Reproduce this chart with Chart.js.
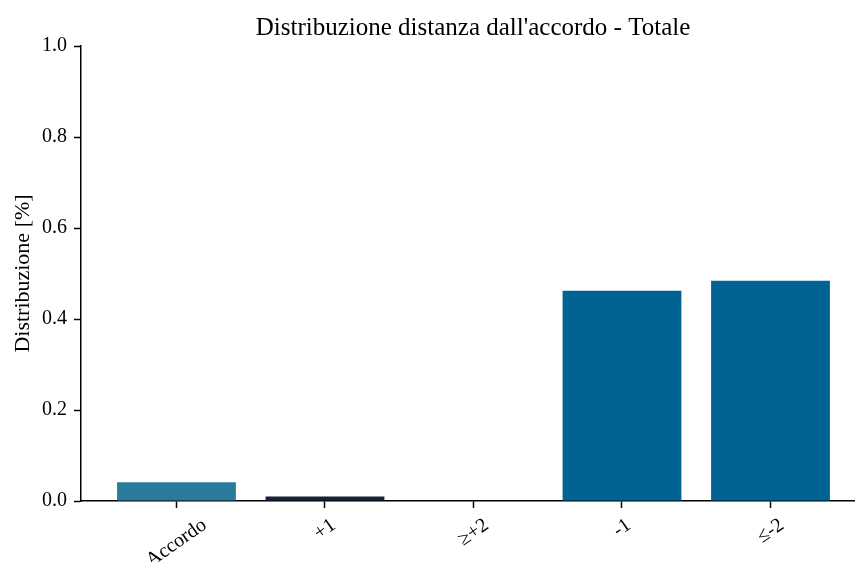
<!DOCTYPE html>
<html>
<head>
<meta charset="utf-8">
<script src="https://cdn.jsdelivr.net/npm/chart.js@4"></script>
<style>
    html, body { margin: 0; padding: 0; background: #fff; overflow: hidden; }
</style>
</head>
<body>
<canvas id="chartDistanza" width="855" height="562"></canvas>
<script>
// dati
var titolo = "Distribuzione distanza dall'accordo - Totale";
var categorie = ['Accordo', '+1', '\u2265+2', '-1', '\u2264-2'];
var valori = [0.041, 0.010, 0.0, 0.462, 0.484];
var colori = ['#2a7a9b', '#132436', '#1f77b4', '#006394', '#006394'];
var tickY = [0.0, 0.2, 0.4, 0.6, 0.8, 1.0];

var fonte = '"Liberation Serif", "Times New Roman", serif';
var angolo = 35 * Math.PI / 180;

// titolo ed etichette ruotate dell'asse x (centrate sul tick, come matplotlib)
const pluginTesti = {
    id: 'testi',
    afterDraw(chart) {
        const ctx = chart.ctx;
        const area = chart.chartArea;
        const sx = chart.scales.x;

        ctx.save();
        ctx.fillStyle = '#000';
        ctx.font = '25px ' + fonte;
        ctx.textAlign = 'center';
        ctx.textBaseline = 'alphabetic';
        ctx.fillText(titolo, area.left + 392, 35);

        ctx.font = '20px ' + fonte;
        ctx.textBaseline = 'middle';
        for (let i = 0; i < categorie.length; i++) {
            const x = sx.getPixelForValue(i);
            const w = ctx.measureText(categorie[i]).width;
            const h = 20;
            const H = w * Math.sin(angolo) + h * Math.cos(angolo);
            ctx.save();
            ctx.translate(x, area.bottom + 14 + H / 2);
            ctx.rotate(-angolo);
            ctx.fillText(categorie[i], 0, 0);
            ctx.restore();
        }
        ctx.restore();
    }
};

let dati = {
    datasets: [{
        data: categorie.map((c, i) => ({ x: i, y: valori[i] })),
        backgroundColor: colori,
        borderWidth: 0,
        barPercentage: 0.8,
        categoryPercentage: 1.0
    }]
};

const assi = {
    display: true,
    offset: false,
    drawOnChartArea: false,
    drawTicks: true,
    tickLength: 7,
    tickWidth: 1.5,
    tickColor: '#000'
};

const config = {
    type: 'bar',
    data: dati,
    options: {
        responsive: false,
        animation: false,
        layout: { padding: { top: 46, left: 0, right: 0, bottom: 0 } },
        plugins: {
            legend: { display: false },
            tooltip: { enabled: false },
            title: { display: false }
        },
        scales: {
            x: {
                type: 'linear',
                offset: false,
                min: -0.643,
                max: 4.569,
                afterBuildTicks: s => { s.ticks = categorie.map((c, i) => ({ value: i })); },
                afterFit: s => { s.height = 61; },
                ticks: { display: false },
                grid: assi,
                border: { display: true, color: '#000', width: 1.5 }
            },
            y: {
                min: 0,
                max: 1,
                afterBuildTicks: s => { s.ticks = tickY.map(v => ({ value: v })); },
                afterFit: s => { s.width = 81; },
                ticks: {
                    callback: v => Number(v).toFixed(1),
                    font: { family: fonte, size: 20 },
                    color: '#000',
                    padding: 7
                },
                grid: assi,
                border: { display: true, color: '#000', width: 1.5 },
                title: {
                    display: true,
                    text: 'Distribuzione [%]',
                    font: { family: fonte, size: 22 },
                    color: '#000',
                    padding: { top: 10, bottom: 0 }
                }
            }
        }
    },
    plugins: [pluginTesti]
};

let myChart = new Chart(document.getElementById('chartDistanza'), config);
</script>
</body>
</html>
